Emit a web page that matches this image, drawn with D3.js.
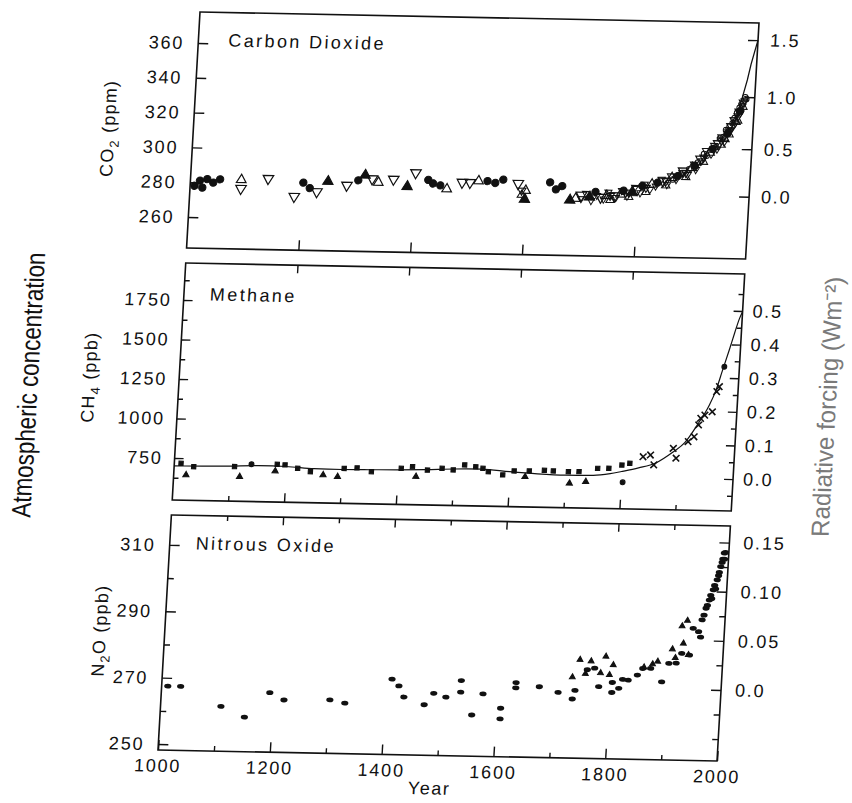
<!DOCTYPE html>
<html>
<head>
<meta charset="utf-8">
<script src="https://cdn.jsdelivr.net/npm/d3@7"></script>
<style>
  body { margin: 0; background: #fff; }
  svg text { font-family: 'Liberation Sans', Arial, Helvetica, sans-serif; fill: #111; }
</style>
</head>
<body>
<script>
// ---- data: [year, concentration] ----
var yearLabels = [1000, 1200, 1400, 1600, 1800, 2000];
var yearMajor = [1200, 1400, 1600, 1800];
var yearMinor = [1100, 1300, 1500, 1700, 1900];

var co2Ticks = [260, 280, 300, 320, 340, 360];
var co2ForcingTicks = [0.0, 0.5, 1.0, 1.5];
var ch4Ticks = [750, 1000, 1250, 1500, 1750];
var ch4MinorTicks = [625, 875, 1125, 1375, 1625, 1875];
var ch4ForcingTicks = [0.0, 0.1, 0.2, 0.3, 0.4, 0.5];
var ch4ForcingMinor = [-0.05, 0.05, 0.15, 0.25, 0.35, 0.45, 0.55];
var n2oTicks = [250, 270, 290, 310];
var n2oMinorTicks = [260, 280, 300];
var n2oForcingTicks = [0.0, 0.05, 0.10, 0.15];
var n2oForcingLabels = ["0.0", "0.05", "0.10", "0.15"];
var n2oForcingMinor = [-0.05, -0.025, 0.025, 0.075, 0.125];

// carbon dioxide (ppm)
var co2Circles = [[1008,278],[1017,281],[1030,282],[1041,280],[1053,282],[1022,277],[1202,281],
  [1214,278],[1300,283],[1425,284],[1434,282],[1447,281],[1531,284],[1545,283],[1559,285],
  [1643,284],[1654,280],[1665,282],[1725,279],[1775,280],[1808,283],[1835,285],[1870,289],
  [1900,295],[1930,305],[1955,314],[1975,327]];
var co2DownTri = [[1091,277],[1139,283],[1187,273],[1227,276],[1280,280],[1325,284],[1363,284],
  [1402,288],[1486,283],[1500,283],[1586,283],[1700,277],[1735,276],[1760,277],[1800,281],
  [1845,286],[1880,292],[1910,299],[1940,308],[1962,318]];
var co2UpTri = [[1091,282],[1336,282],[1459,279],[1515,284],[1600,279],[1690,275],[1745,277],
  [1770,278],[1825,284],[1860,288],[1895,294],[1925,303],[1950,311],[1968,321]];
var co2FilledTri = [[1246,282],[1312,286],[1388,280],[1599,274],[1680,274],[1715,276],[1790,279]];
var co2Hourglass = [[1593,279],[1752,277],[1785,279],[1815,282],[1850,286],[1885,291],[1915,300],
  [1945,310],[1958,316],[1972,324],[1980,332]];
var co2Firn = [[1862,287],[1875,290],[1890,293],[1905,297],[1915,302],[1920,301],[1935,306],
  [1942,311],[1948,312],[1952,316],[1958,318],[1963,320],[1966,323],[1970,326],[1974,329],
  [1977,331],[1983,335],[1985,334]];
var co2Band = [[1700,275],[1708,278],[1718,274],[1728,277],[1740,275],[1748,279],[1762,276],
  [1772,280],[1782,277],[1795,282],[1805,279],[1812,284],[1822,281],[1832,283],[1842,287],
  [1852,284],[1858,289],[1868,287],[1878,291],[1888,290],[1898,296],[1902,293],[1912,298],
  [1918,304],[1928,302],[1932,307],[1938,305],[1944,312],[1950,309],[1956,315],[1960,316],
  [1964,322],[1968,320],[1972,327],[1976,326],[1979,330],[1982,333]];
var co2Line = [[1958,315],[1965,320],[1970,325],[1975,331],[1980,338],[1985,345],[1990,354],
  [1995,361],[2000,368]];

// methane (ppb)
var ch4Squares = [[1012,717],[1035,697],[1108,703],[1184,723],[1198,720],[1221,700],[1244,680],
  [1304,705],[1327,710],[1353,688],[1406,713],[1426,725],[1453,705],[1479,718],[1499,709],
  [1519,742],[1539,732],[1552,723],[1562,702],[1588,684],[1608,710],[1635,712],[1662,718],
  [1678,715],[1705,712],[1724,714],[1757,737],[1777,739],[1800,761],[1814,773]];
var ch4Triangles = [[1022,644],[1118,640],[1181,680],[1267,661],[1293,652],[1433,662],
  [1628,675],[1708,639],[1737,651]];
var ch4Dots = [[1138,720],[1803,652],[1973,1395]];
var ch4Crosses = [[1837,816],[1850,828],[1857,766],[1890,873],[1896,811],[1916,917],[1926,949],
  [1933,1024],[1936,1066],[1943,1087],[1956,1109],[1962,1237],[1966,1269]];
var ch4Line = [[1000,700],[1050,702],[1100,706],[1150,712],[1200,710],[1250,700],[1300,698],
  [1350,700],[1400,703],[1450,708],[1500,715],[1550,718],[1600,705],[1650,695],[1700,690],
  [1750,692],[1780,705],[1800,720],[1830,745],[1860,778],[1890,850],[1910,910],[1930,1020],
  [1950,1150],[1960,1240],[1970,1370],[1980,1500],[1988,1610],[1995,1700],[2000,1745]];

// nitrous oxide (ppb)
var n2oDots = [[1011,267.5],[1034,267.5],[1108,261.7],[1151,258.6],[1194,266.1],[1220,264.0],
  [1302,264.3],[1329,263.4],[1411,270.9],[1424,268.9],[1434,265.6],[1471,263.4],[1487,266.9],
  [1509,265.8],[1535,270.9],[1535,267.4],[1557,260.6],[1575,267.0],[1608,262.8],[1608,259.6],
  [1633,270.6],[1633,269],[1675,269.5],[1709,267.9],[1735,266.0],[1739,268.6],[1759,274.9],
  [1772,275.4],[1781,269.9],[1805,271.2],[1805,268.2],[1817,269.5],[1823,272.2],[1833,272.0],
  [1849,273.6],[1858,275.6],[1872,275.7],[1893,271.7],[1904,277.3],[1917,277.4],[1926,280.4],
  [1940,279.9],[1944,288.0],[1954,287.0],[1958,285.4],[1959,290.6],[1962,292],[1965,294.1],
  [1967,295],[1970,296.6],[1972,298],[1974,297],[1976,299.7],[1978,301],[1980,300],
  [1982,302.7],[1984,304],[1985,305],[1987,306.7],[1989,308],[1990,309],[1992,310.8],
  [1993,309],[1994,311]];
var n2oTriangles = [[1733,272.6],[1745,277.9],[1756,273.7],[1765,277.5],[1783,274.0],
  [1791,279.0],[1799,273.5],[1805,276.5],[1860,276],[1875,277],[1884,277.8],[1909,281.6],
  [1915,279],[1924,288.6],[1928,283.4],[1933,290.3],[1938,280]];

// forcing (W m-2) to concentration, for the right-hand axes
var co2FromForcing = function(f) { return 278 * Math.exp(f / 5.35); };
var ch4FromForcing = function(f) { return 686 + 2128 * f; };
var n2oFromForcing = function(f) { return 269.6 + 296 * f; };

// ---- layout ----
var W = 559;
var svg = d3.select("body").append("svg")
    .attr("width", 852)
    .attr("height", 803);

// the scanned figure is slightly rotated / sheared
var fig = svg.append("g")
    .attr("transform", "matrix(1,0.0197,-0.0569,1,200,12)");

var x = d3.scaleLinear().domain([1000, 2000]).range([0, W]);
var yCO2 = d3.scaleLinear().domain([242.2, 377.8]).range([236, 0]);
var yCH4 = d3.scaleLinear().domain([484, 1984]).range([488, 251]);
var yN2O = d3.scaleLinear().domain([248.2, 319.0]).range([738, 503]);

var panels = [[0, 236], [251, 488], [503, 738]];

function frame(p) {
  fig.append("rect")
      .attr("x", 0).attr("y", p[0])
      .attr("width", W).attr("height", p[1] - p[0])
      .attr("fill", "none")
      .attr("stroke", "#111")
      .attr("stroke-width", 1.6);
}

function styleAxis(g) {
  g.select(".domain").remove();
  g.attr("font-size", 18).attr("font-family", null);
  g.selectAll("line").attr("stroke", "#111").attr("stroke-width", 1.4);
  g.selectAll("text").style("letter-spacing", "1.8px");
}

function axis(axisFn, scale, values, size, fmt, tx, ty, pad) {
  var a = axisFn(scale).tickValues(values).tickSize(size).tickPadding(pad || 0)
      .tickFormat(fmt || "");
  fig.append("g")
      .attr("transform", "translate(" + tx + "," + ty + ")")
      .call(a)
      .call(styleAxis);
}

panels.forEach(frame);

// left axes
axis(d3.axisLeft, yCO2, co2Ticks, -10, d3.format("d"), 0, 0, 14);
axis(d3.axisLeft, yCH4, ch4Ticks, -9, d3.format("d"), 0, 0, 12);
axis(d3.axisLeft, yCH4, ch4MinorTicks, -5, null, 0, 0);
axis(d3.axisLeft, yN2O, n2oTicks, -10, d3.format("d"), 0, 0, 14);
axis(d3.axisLeft, yN2O, n2oMinorTicks, -6, null, 0, 0);

// right axes (radiative forcing)
axis(d3.axisRight, yCO2, co2ForcingTicks.map(co2FromForcing), -10,
     function(d, i) { return co2ForcingTicks[i].toFixed(1); }, W, 0, 12);
axis(d3.axisRight, yCH4, ch4ForcingTicks.map(ch4FromForcing), -9,
     function(d, i) { return ch4ForcingTicks[i].toFixed(1); }, W, 0, 10);
axis(d3.axisRight, yCH4, ch4ForcingMinor.map(ch4FromForcing), -5, null, W, 0);
axis(d3.axisRight, yN2O, n2oForcingTicks.map(n2oFromForcing), -10,
     function(d, i) { return n2oForcingLabels[i]; }, W, 0, 14);
axis(d3.axisRight, yN2O, n2oForcingMinor.map(n2oFromForcing), -6, null, W, 0);

// year ticks
axis(d3.axisBottom, x, yearMajor, -10, null, 0, 236);
axis(d3.axisTop, x, yearMajor, -8, null, 0, 251);
axis(d3.axisBottom, x, yearMajor, -9, null, 0, 488);
axis(d3.axisBottom, x, yearMinor, -5, null, 0, 488);
axis(d3.axisTop, x, yearMajor, -8, null, 0, 503);
axis(d3.axisTop, x, yearMinor, -5, null, 0, 503);
axis(d3.axisBottom, x, yearLabels, -10, d3.format("d"), 0, 738, 9);
axis(d3.axisBottom, x, yearMinor, -5, null, 0, 738);

// ---- marks ----
function points(data, y, type, size, filled, flip, sw) {
  fig.append("g").selectAll("path")
      .data(data)
    .join("path")
      .attr("transform", function(d) {
        return "translate(" + x(d[0]) + "," + y(d[1]) + ")" + (flip ? " rotate(180)" : "");
      })
      .attr("d", d3.symbol().type(type).size(size))
      .attr("fill", filled ? "#111" : "none")
      .attr("stroke", "#111")
      .attr("stroke-width", sw || 1.1);
}

function ellipses(data, y, rx, ry) {
  fig.append("g").selectAll("ellipse")
      .data(data)
    .join("ellipse")
      .attr("cx", function(d) { return x(d[0]); })
      .attr("cy", function(d) { return y(d[1]); })
      .attr("rx", rx).attr("ry", ry)
      .attr("fill", "#111");
}

// CO2
points(co2Band, yCO2, d3.symbolTriangle, 22, false, true, 1);
points(co2Firn, yCO2, d3.symbolCircle, 24, false, false, 1);
points(co2Circles, yCO2, d3.symbolCircle, 42, true, false, 1);
points(co2DownTri, yCO2, d3.symbolTriangle, 48, false, true, 1.2);
points(co2UpTri, yCO2, d3.symbolTriangle, 40, false, false, 1.2);
points(co2FilledTri, yCO2, d3.symbolTriangle, 46, true, false);
points(co2Hourglass, yCO2, d3.symbolTriangle, 30, false, true, 1.1);
points(co2Hourglass.map(function(d) { return [d[0], d[1] - 2.5]; }), yCO2, d3.symbolTriangle, 30, false, false, 1.1);

fig.append("path")
    .datum(co2Line)
    .attr("fill", "none")
    .attr("stroke", "#111")
    .attr("stroke-width", 1.3)
    .attr("d", d3.line()
      .x(function(d) { return x(d[0]); })
      .y(function(d) { return yCO2(d[1]); }));

// CH4
fig.append("path")
    .datum(ch4Line)
    .attr("fill", "none")
    .attr("stroke", "#111")
    .attr("stroke-width", 1.2)
    .attr("d", d3.line()
      .curve(d3.curveMonotoneX)
      .x(function(d) { return x(d[0]); })
      .y(function(d) { return yCH4(d[1]); }));
points(ch4Squares, yCH4, d3.symbolSquare, 18, true);
points(ch4Triangles, yCH4, d3.symbolTriangle, 16, true);
points(ch4Dots, yCH4, d3.symbolCircle, 18, true);
points(ch4Crosses, yCH4, d3.symbolTimes, 30, false, false, 1.6);

// N2O
ellipses(n2oDots, yN2O, 3.6, 2.4);
points(n2oTriangles, yN2O, d3.symbolTriangle, 14, true);

// ---- text ----
function title(txt, tx, ty) {
  fig.append("text")
      .attr("x", tx).attr("y", ty)
      .attr("font-size", 18)
      .style("letter-spacing", "2.4px")
      .text(txt);
}
title("Carbon Dioxide", 30, 34);
title("Methane", 26, 288);
title("Nitrous Oxide", 26, 537);

function yLabel(main, sub, rest, tx, ty) {
  var t = fig.append("text")
      .attr("transform", "translate(" + tx + "," + ty + ") rotate(-90)")
      .attr("text-anchor", "middle")
      .attr("dy", "0.3em")
      .attr("font-size", 18)
      .style("letter-spacing", "1.2px");
  t.append("tspan").text(main);
  t.append("tspan").attr("font-size", 13).attr("dy", 5).text(sub);
  t.append("tspan").attr("dy", -5).text(rest);
}
yLabel("CO", "2", " (ppm)", -84, 118);
yLabel("CH", "4", " (ppb)", -89, 367);
yLabel("N", "2", "O (ppb)", -64, 620);

fig.append("text")
    .attr("x", 273).attr("y", 777)
    .attr("text-anchor", "middle")
    .attr("font-size", 18)
    .style("letter-spacing", "1.5px")
    .text("Year");

fig.append("text")
    .attr("transform", "translate(-149,376) rotate(-90)")
    .attr("text-anchor", "middle")
    .attr("dy", "0.3em")
    .attr("font-size", 27)
    .attr("textLength", 265)
    .attr("lengthAdjust", "spacingAndGlyphs")
    .text("Atmospheric concentration");

fig.append("text")
    .attr("transform", "translate(650,382) rotate(-90)")
    .attr("text-anchor", "middle")
    .attr("dy", "0.3em")
    .attr("font-size", 25)
    .attr("textLength", 260)
    .attr("lengthAdjust", "spacingAndGlyphs")
    .style("fill", "#7a7a7a")
    .text("Radiative forcing  (Wm\u207B\u00B2)");
</script>
</body>
</html>
